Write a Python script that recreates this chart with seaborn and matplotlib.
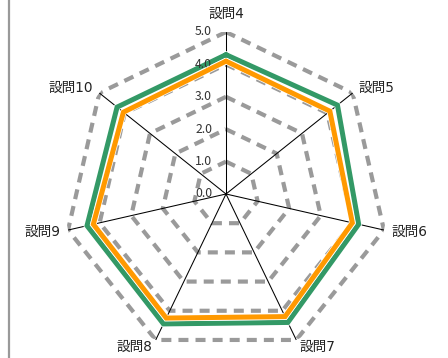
import numpy as np
import pandas as pd
import matplotlib
matplotlib.use("Agg")
import matplotlib.pyplot as plt
import matplotlib.patheffects as pe
from matplotlib.lines import Line2D
import seaborn as sns

categories = ["設問4", "設問5", "設問6", "設問7", "設問8", "設問9", "設問10"]
series_green = [4.3, 4.4, 4.2, 4.4, 4.45, 4.4, 4.3]
series_orange = [4.1, 4.1, 4.0, 4.2, 4.25, 4.2, 4.05]
r_ticks = [0.0, 1.0, 2.0, 3.0, 4.0, 5.0]
r_tick_labels = ["0.0", "1.0", "2.0", "3.0", "4.0", "5.0"]

sns.set_theme(style="white")
plt.rcParams['font.family'] = ['Noto Sans CJK JP', 'DejaVu Sans']

n = len(categories)
theta = np.arange(n) * 2 * np.pi / n

fig = plt.figure(figsize=(4.48, 3.58), dpi=100)
fig.patch.set_facecolor("white")
R = 162
cx, cy = 226, 194
W, H = 448, 358
ax = fig.add_axes([(cx - R) / W, (H - cy - R) / H, 2 * R / W, 2 * R / H], projection="polar")
ax.set_theta_zero_location("N")
ax.set_theta_direction(-1)
ax.set_ylim(0, 5.0)
ax.grid(False)
ax.spines["polar"].set_visible(False)
ax.set_xticks([])
ax.set_yticks([])
ax.set_facecolor("none")

# grid heptagons
th_closed = np.append(theta, theta[0])
for rv in r_ticks[1:]:
    ax.plot(th_closed, [rv] * (n + 1), color="#9a9a9a", lw=3.0,
            linestyle=(0, (2.4, 1.7)), zorder=1, solid_capstyle="butt",
            dash_capstyle="butt")
# radial lines
for t in theta:
    ax.plot([t, t], [0, r_ticks[-1]], color="black", lw=0.75, zorder=2)

def closed_df(vals, name):
    return pd.DataFrame({"theta": np.append(theta, theta[0]),
                         "value": list(vals) + [vals[0]],
                         "series": name})

df_g = closed_df(series_green, "green")
df_o = closed_df(series_orange, "orange")
sns.lineplot(data=df_g, x="theta", y="value", sort=False, ax=ax, color="#339966",
             lw=3.6, zorder=3, legend=False, estimator=None)
sns.lineplot(data=df_o, x="theta", y="value", sort=False, ax=ax, color="#ff9900",
             lw=3.6, zorder=4, legend=False, estimator=None)
for ln in ax.lines[-2:]:
    ln.set_path_effects([pe.Stroke(linewidth=4.6, foreground="white"), pe.Normal()])
    ln.set_solid_joinstyle("miter")
ax.set_xlabel("")
ax.set_ylabel("")

# radial tick labels
for rv, lab in zip(r_ticks, r_tick_labels):
    ax.annotate(lab, xy=(0, rv), xytext=(-10, 0), textcoords="offset points",
                ha="right", va="center", fontsize=8.8, color="#333333")

# category labels
cat_family = ['DejaVu Sans', 'Noto Sans CJK JP']
for t, lab in zip(theta, categories):
    s = np.sin(t)
    if abs(s) < 1e-6:
        ax.text(t, 5.55, lab, ha="center", va="center", fontsize=9.8,
                color="#222222", family=cat_family)
    else:
        ha = "left" if s > 0 else "right"
        ax.text(t, 5.25, lab, ha=ha, va="center", fontsize=9.8,
                color="#222222", family=cat_family)

fig.add_artist(Line2D([8.5 / W, 8.5 / W], [0, 1], color="#999999", lw=1.6,
                      transform=fig.transFigure))

fig.savefig("out.png", dpi=100, facecolor="white")
